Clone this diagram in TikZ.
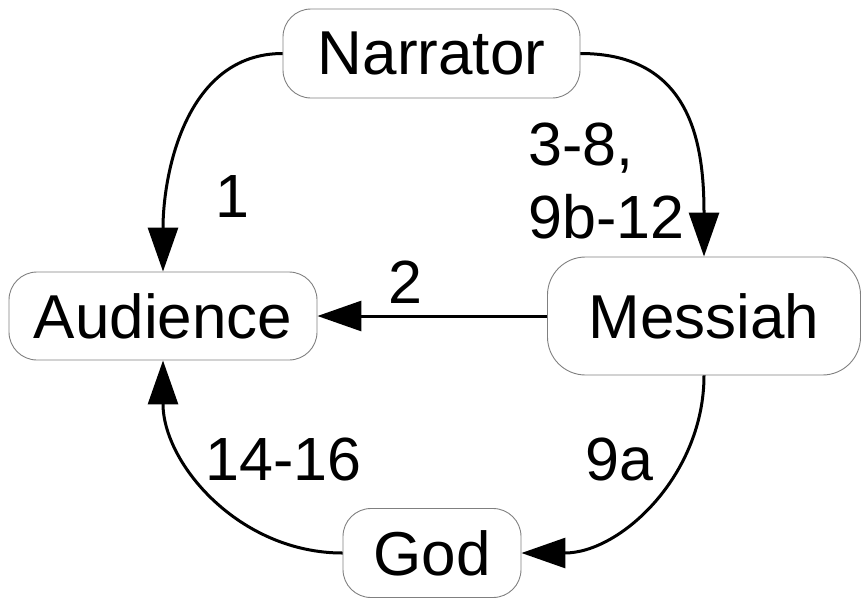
\documentclass[tikz,border=0pt]{standalone}
\usepackage{fontspec}
\setmainfont{Liberation Sans}
\usetikzlibrary{arrows.meta}
\begin{document}
\begin{tikzpicture}[x=1pt,y=-1pt,
  box/.style={draw=black!50, line width=0.9pt, rectangle, inner sep=0pt,
    font=\fontsize{62}{73}\selectfont},
  link/.style={line width=3pt, -{Triangle[length=44pt,width=30pt]}},
  lbl/.style={font=\fontsize{61}{73}\selectfont, inner sep=0pt, anchor=base west, align=left}]
\useasboundingbox (0,0) rectangle (862,598);
\node[box, minimum width=297pt, minimum height=89pt, rounded corners=28pt] (nar) at (431.5,53.5) {Narrator};
\node[box, minimum width=308pt, minimum height=88pt, rounded corners=28pt] (aud) at (163,316) {Audience};
\node[box, minimum width=313pt, minimum height=118pt, rounded corners=38pt] (mes) at (704,316) {Messiah};
\node[box, minimum width=178pt, minimum height=89pt, rounded corners=28pt] (god) at (432,553) {God};
\draw[link] (nar.west) to[out=180,in=90] (aud.north);
\draw[link] (nar.east) to[out=0,in=90,looseness=1.2] (mes.north);
\draw[link] (mes.west) -- (aud.east);
\draw[link] (mes.south) to[out=-90,in=0] (god.east);
\draw[link] (god.west) to[out=180,in=-90] (aud.south);
\node[lbl] (l1) at (215,217) {1};
\node[lbl] (l2) at (388,303) {2};
\node[lbl] (l3) at (528,165) {3-8,};
\node[lbl] (l4) at (528,238) {9b-12};
\node[lbl] (l5) at (205,480) {14-16};
\node[lbl] (l6) at (585,480) {9a};
\end{tikzpicture}
\end{document}
